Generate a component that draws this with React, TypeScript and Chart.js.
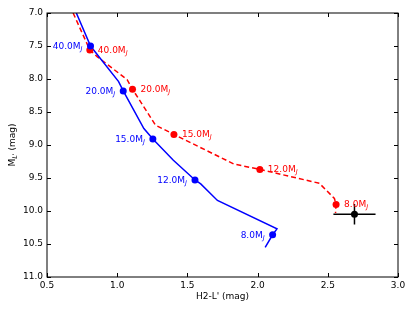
import { useEffect, useRef } from "react";
import { Chart, registerables } from "chart.js";
Chart.register(...registerables);

// Blue (solid) evolutionary track
const blueLineX = [0.709, 0.81, 1.01, 1.043, 1.19, 1.254, 1.40, 1.554, 1.595, 1.714, 2.138, 2.107, 2.054];
const blueLineY = [7.0, 7.5, 8.04, 8.18, 8.75, 8.91, 9.23, 9.53, 9.59, 9.84, 10.27, 10.36, 10.55];
// Red (dashed) evolutionary track
const redLineX = [0.686, 0.805, 0.857, 1.071, 1.109, 1.273, 1.404, 1.833, 2.016, 2.44, 2.547, 2.559, 2.555];
const redLineY = [7.0, 7.56, 7.66, 8.01, 8.155, 8.70, 8.84, 9.29, 9.37, 9.58, 9.81, 9.90, 10.03];
// Mass markers
const massLabels = ["40.0", "20.0", "15.0", "12.0", "8.0"];
const blueMassX = [0.81, 1.043, 1.254, 1.554, 2.107];
const blueMassY = [7.5, 8.18, 8.91, 9.53, 10.36];
const redMassX = [0.805, 1.109, 1.404, 2.016, 2.559];
const redMassY = [7.56, 8.155, 8.84, 9.37, 9.90];
// Observed object
const objX = [2.69];
const objY = [10.05];
const objErrX = [0.15];
const objErrY = [0.155];
// Axis ticks
const xTicks = [0.5, 1.0, 1.5, 2.0, 2.5, 3.0];
const yTicks = [7.0, 7.5, 8.0, 8.5, 9.0, 9.5, 10.0, 10.5, 11.0];

const FONT = "DejaVu Sans";
const BLUE = "#0000ff";
const RED = "#ff0000";

function drawMassLabel(ctx: CanvasRenderingContext2D, text: string, x: number, y: number, side: "left" | "right", color: string) {
  ctx.save();
  ctx.fillStyle = color;
  ctx.textBaseline = "alphabetic";
  ctx.textAlign = "left";
  const main = text + "M";
  ctx.font = `9px '${FONT}'`;
  const w1 = ctx.measureText(main).width;
  ctx.font = `italic 6.5px '${FONT}'`;
  const w2 = ctx.measureText("J").width;
  const total = w1 + w2;
  const start = side === "right" ? x - 8 - total : x + 8;
  const base = y + 3;
  ctx.font = `9px '${FONT}'`;
  ctx.fillText(main, start, base);
  ctx.font = `italic 6.5px '${FONT}'`;
  ctx.fillText("J", start + w1, base + 2);
  ctx.restore();
}

const customPlugin = {
  id: "custom",
  beforeDatasetsDraw(chart: any) {
    const ctx = chart.ctx as CanvasRenderingContext2D;
    const xs = chart.scales.x;
    const ys = chart.scales.y;
    ctx.save();
    ctx.strokeStyle = "#000";
    ctx.lineWidth = 1.5;
    for (let i = 0; i < objX.length; i++) {
      const cx = xs.getPixelForValue(objX[i]);
      const cy = ys.getPixelForValue(objY[i]);
      ctx.beginPath();
      ctx.moveTo(xs.getPixelForValue(objX[i] - objErrX[i]), cy);
      ctx.lineTo(xs.getPixelForValue(objX[i] + objErrX[i]), cy);
      ctx.moveTo(cx, ys.getPixelForValue(objY[i] - objErrY[i]));
      ctx.lineTo(cx, ys.getPixelForValue(objY[i] + objErrY[i]));
      ctx.stroke();
    }
    ctx.restore();
  },
  afterDraw(chart: any) {
    const ctx = chart.ctx as CanvasRenderingContext2D;
    const xs = chart.scales.x;
    const ys = chart.scales.y;
    const a = chart.chartArea;
    ctx.save();
    // frame
    ctx.strokeStyle = "#000";
    ctx.lineWidth = 1;
    ctx.strokeRect(a.left, a.top, a.right - a.left, a.bottom - a.top);
    // inside ticks
    const tl = 4;
    ctx.beginPath();
    for (const v of xTicks) {
      const px = Math.round(xs.getPixelForValue(v)) + 0.5;
      ctx.moveTo(px, a.bottom);
      ctx.lineTo(px, a.bottom - tl);
      ctx.moveTo(px, a.top);
      ctx.lineTo(px, a.top + tl);
    }
    for (const v of yTicks) {
      const py = Math.round(ys.getPixelForValue(v)) + 0.5;
      ctx.moveTo(a.left, py);
      ctx.lineTo(a.left + tl, py);
      ctx.moveTo(a.right, py);
      ctx.lineTo(a.right - tl, py);
    }
    ctx.stroke();
    // mass labels
    for (let i = 0; i < massLabels.length; i++) {
      drawMassLabel(ctx, massLabels[i], xs.getPixelForValue(blueMassX[i]), ys.getPixelForValue(blueMassY[i]), "right", BLUE);
      drawMassLabel(ctx, massLabels[i], xs.getPixelForValue(redMassX[i]), ys.getPixelForValue(redMassY[i]), "left", RED);
    }
    // x axis title
    ctx.fillStyle = "#000";
    ctx.font = `9px '${FONT}'`;
    ctx.textAlign = "center";
    ctx.textBaseline = "middle";
    ctx.fillText("H2-L' (mag)", (a.left + a.right) / 2, 297);
    // y axis title
    ctx.translate(12, (a.top + a.bottom) / 2);
    ctx.rotate(-Math.PI / 2);
    ctx.textAlign = "left";
    ctx.textBaseline = "alphabetic";
    ctx.font = `9px '${FONT}'`;
    const wM = ctx.measureText("M").width;
    ctx.font = `italic 6.5px '${FONT}'`;
    const wL = ctx.measureText("L'").width;
    ctx.font = `9px '${FONT}'`;
    const wR = ctx.measureText(" (mag)").width;
    const total = wM + wL + wR;
    let sx = -total / 2;
    const base = 3;
    ctx.fillText("M", sx, base);
    sx += wM;
    ctx.font = `italic 6.5px '${FONT}'`;
    ctx.fillText("L'", sx, base + 2);
    sx += wL;
    ctx.font = `9px '${FONT}'`;
    ctx.fillText(" (mag)", sx, base);
    ctx.restore();
  },
};

function pts(xs: number[], ys: number[]) {
  return xs.map((x, i) => ({ x, y: ys[i] }));
}

export default function App() {
  const ref = useRef<HTMLCanvasElement>(null);
  useEffect(() => {
    if (!ref.current) return;
    const chart = new Chart(ref.current, {
      type: "scatter",
      data: {
        datasets: [
          { data: pts(blueLineX, blueLineY), showLine: true, borderColor: BLUE, borderWidth: 1.5, pointRadius: 0, order: 2 },
          { data: pts(redLineX, redLineY), showLine: true, borderColor: RED, borderWidth: 1.5, borderDash: [5, 3], pointRadius: 0, order: 2 },
          { data: pts(blueMassX, blueMassY), backgroundColor: BLUE, borderColor: BLUE, pointRadius: 3.5, borderWidth: 0, order: 1 },
          { data: pts(redMassX, redMassY), backgroundColor: RED, borderColor: RED, pointRadius: 3.5, borderWidth: 0, order: 1 },
          { data: pts(objX, objY), backgroundColor: "#000", borderColor: "#000", pointRadius: 3.5, borderWidth: 0, order: 0 },
        ],
      },
      options: {
        animation: false,
        responsive: false,
        events: [],
        layout: { padding: { top: 13, right: 17, left: 0, bottom: 0 } },
        plugins: { legend: { display: false }, tooltip: { enabled: false } },
        scales: {
          x: {
            type: "linear",
            min: 0.5,
            max: 3.0,
            afterBuildTicks: (s: any) => { s.ticks = xTicks.map((v) => ({ value: v })); },
            afterFit: (s: any) => { s.height = 34; },
            grid: { display: false, drawTicks: false },
            border: { display: false },
            ticks: { color: "#000", font: { family: FONT, size: 9 }, padding: 3, maxRotation: 0, callback: (v: any) => Number(v).toFixed(1) },
          },
          y: {
            type: "linear",
            min: 7.0,
            max: 11.0,
            reverse: true,
            afterBuildTicks: (s: any) => { s.ticks = yTicks.map((v) => ({ value: v })); },
            afterFit: (s: any) => { s.width = 47; },
            grid: { display: false, drawTicks: false },
            border: { display: false },
            ticks: { color: "#000", font: { family: FONT, size: 9 }, padding: 4, callback: (v: any) => Number(v).toFixed(1) },
          },
        },
      },
      plugins: [customPlugin],
    });
    return () => chart.destroy();
  }, []);
  return (
    <div style={{ position: "fixed", left: 0, top: 0, width: 415, height: 311, background: "#fff" }}>
      <canvas ref={ref} width={415} height={311} style={{ width: 415, height: 311 }} />
    </div>
  );
}
